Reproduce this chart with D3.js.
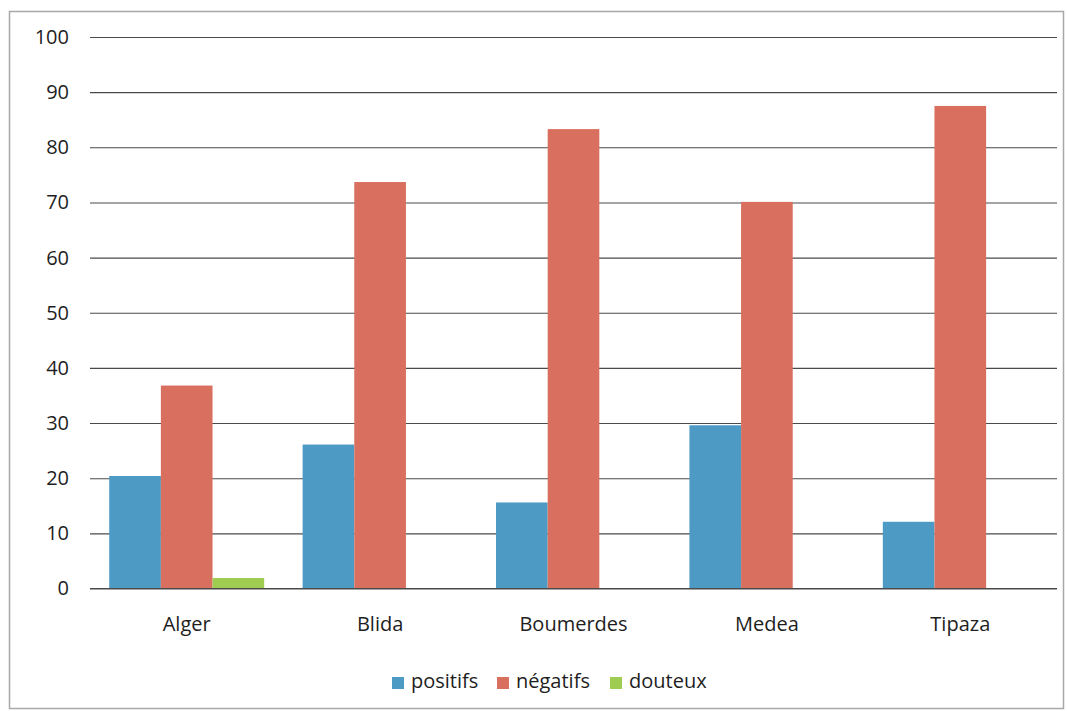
<!DOCTYPE html>
<html>
<head>
<meta charset="utf-8">
<script src="https://cdn.jsdelivr.net/npm/d3@7"></script>
<style>
  html, body { margin: 0; padding: 0; background: #fff; }
  svg { display: block; }
  text { font-family: "Open Sans", "Liberation Sans", sans-serif; fill: #1e1e1e; }
</style>
</head>
<body>
<script>
// Regions and results per category (%)
const categories = ["Alger", "Blida", "Boumerdes", "Medea", "Tipaza"];
const seriesNames = ["positifs", "négatifs", "douteux"];
const positifs = [20.4, 26.1, 15.6, 29.6, 12.1];
const negatifs = [36.8, 73.7, 83.3, 70.1, 87.5];
const douteux = [1.9, 0, 0, 0, 0];
const yTicks = [0, 10, 20, 30, 40, 50, 60, 70, 80, 90, 100];
const colors = ["#4d9ac4", "#d9705f", "#9fcd52"];

const seriesValues = [positifs, negatifs, douteux];

const W = 1067, H = 711;
const plot = { left: 90, right: 1057, top: 37, bottom: 588.5 };
const fontSize = "20px";

const svg = d3.select("body").append("svg")
  .attr("width", W).attr("height", H);

// Chart frame
svg.append("rect")
  .attr("x", 9.5).attr("y", 11.5)
  .attr("width", 1054).attr("height", 697)
  .attr("fill", "#fff")
  .attr("stroke", "#a8a8a8").attr("stroke-width", 1.5);

const y = d3.scaleLinear().domain([0, 100]).range([plot.bottom, plot.top]);
const x0 = d3.scaleBand().domain(categories).range([plot.left, plot.right]).padding(0);
const x1 = d3.scaleBand().domain(seriesNames).range([0, x0.bandwidth()])
  .paddingInner(0).paddingOuter(0.372);

// Horizontal gridlines
const yAxis = d3.axisLeft(y).tickValues(yTicks).tickSize(-(plot.right - plot.left)).tickPadding(21);
const gy = svg.append("g").attr("transform", `translate(${plot.left},0)`).call(yAxis);
gy.select(".domain").remove();
gy.selectAll(".tick line").attr("stroke", "#4a4a4a").attr("stroke-width", 1.1);
gy.selectAll(".tick text")
  .style("font-size", fontSize)
  .attr("fill", "#1e1e1e");

// Bars
const rows = categories.map((c, i) => ({
  cat: c,
  vals: seriesNames.map((s, j) => ({ s, j, v: seriesValues[j][i] }))
}));

const groups = svg.append("g").selectAll("g")
  .data(rows).join("g")
  .attr("transform", d => `translate(${x0(d.cat)},0)`);

groups.selectAll("rect")
  .data(d => d.vals.filter(e => e.v > 0))
  .join("rect")
  .attr("x", d => x1(d.s))
  .attr("y", d => y(d.v))
  .attr("width", x1.bandwidth())
  .attr("height", d => y(0) - y(d.v))
  .attr("fill", d => colors[d.j]);

// Baseline on top of bars
svg.append("line")
  .attr("x1", plot.left).attr("x2", plot.right)
  .attr("y1", y(0)).attr("y2", y(0))
  .attr("stroke", "#4a4a4a").attr("stroke-width", 1.2);

// Category labels
const xAxis = d3.axisBottom(x0).tickSize(0).tickPadding(28);
const gx = svg.append("g").attr("transform", `translate(0,${plot.bottom})`).call(xAxis);
gx.select(".domain").remove();
gx.selectAll(".tick text").style("font-size", fontSize).attr("fill", "#1e1e1e");

// Legend
const legendItems = [
  { name: seriesNames[0], x: 392 },
  { name: seriesNames[1], x: 497 },
  { name: seriesNames[2], x: 610 }
];
const lg = svg.append("g");
legendItems.forEach((it, i) => {
  lg.append("rect")
    .attr("x", it.x).attr("y", 677)
    .attr("width", 12).attr("height", 12)
    .attr("fill", colors[i]);
  lg.append("text")
    .attr("x", it.x + 19).attr("y", 688)
    .style("font-size", fontSize)
    .text(it.name);
});
</script>
</body>
</html>
